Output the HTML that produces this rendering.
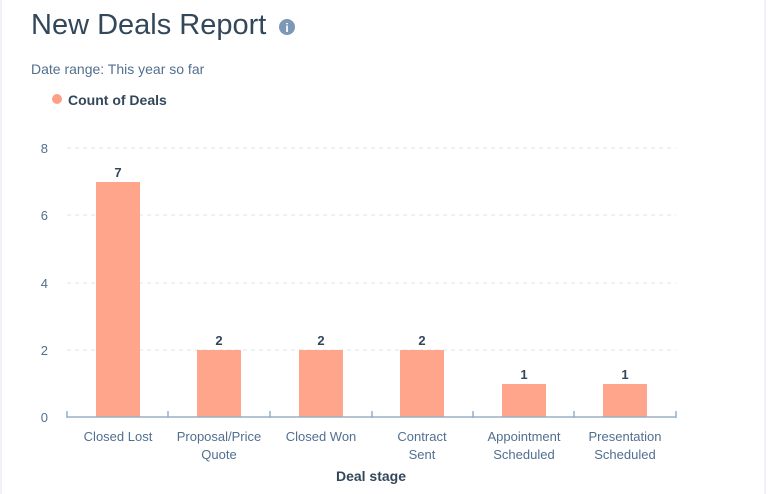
<!DOCTYPE html><html><head><style>body{margin:0;width:768px;height:494px;background:#fff;overflow:hidden;position:relative;font-family:"Liberation Sans",sans-serif}</style></head><body>
<div style="position:absolute;left:0;top:0;width:2px;height:494px;background:#eef2f6"></div>
<div style="position:absolute;right:2px;top:0;width:2px;height:494px;background:#eef2f6"></div>
<svg width="768" height="494" style="position:absolute;left:0;top:0" font-family="Liberation Sans, sans-serif">
<text x="31" y="34" font-size="29" fill="#33475b">New Deals Report</text>
<circle cx="287" cy="27" r="8" fill="#7c98b6"/><text x="287" y="32" font-size="12" font-weight="bold" fill="#fff" text-anchor="middle">i</text>
<text x="31" y="74" font-size="14" fill="#516f90">Date range: This year so far</text>
<circle cx="57" cy="99" r="5" fill="#ff9f86"/><text x="68" y="105" font-size="14" font-weight="bold" fill="#33475b">Count of Deals</text>
<g stroke="#dfe3eb" stroke-dasharray="4,4"><line x1="67" x2="676" y1="148" y2="148"/><line x1="67" x2="676" y1="215" y2="215"/><line x1="67" x2="676" y1="283" y2="283"/><line x1="67" x2="676" y1="350" y2="350"/></g>
<g font-size="13" fill="#516f90" text-anchor="end"><text x="48" y="153">8</text><text x="48" y="220">6</text><text x="48" y="288">4</text><text x="48" y="355">2</text><text x="48" y="422">0</text></g>
<g fill="#ffa58b"><rect x="96" y="182" width="44" height="235"/><rect x="197" y="350" width="44" height="67"/><rect x="299" y="350" width="44" height="67"/><rect x="400" y="350" width="44" height="67"/><rect x="502" y="384" width="44" height="33"/><rect x="603" y="384" width="44" height="33"/></g>
<g font-size="13" font-weight="bold" fill="#33475b" text-anchor="middle"><text x="118" y="177">7</text><text x="219" y="345">2</text><text x="321" y="345">2</text><text x="422" y="345">2</text><text x="524" y="379">1</text><text x="625" y="379">1</text></g>
<g stroke="#99afc4" stroke-width="1.5"><line x1="67" x2="676" y1="417" y2="417"/><line x1="67" x2="67" y1="411" y2="418"/><line x1="168" x2="168" y1="411" y2="418"/><line x1="270" x2="270" y1="411" y2="418"/><line x1="372" x2="372" y1="411" y2="418"/><line x1="473" x2="473" y1="411" y2="418"/><line x1="574" x2="574" y1="411" y2="418"/><line x1="676" x2="676" y1="411" y2="418"/></g>
<g font-size="13" fill="#516f90" text-anchor="middle"><text x="118" y="441">Closed Lost</text><text x="219" y="441">Proposal/Price</text><text x="219" y="459">Quote</text><text x="321" y="441">Closed Won</text><text x="422" y="441">Contract</text><text x="422" y="459">Sent</text><text x="524" y="441">Appointment</text><text x="524" y="459">Scheduled</text><text x="625" y="441">Presentation</text><text x="625" y="459">Scheduled</text></g>
<text x="371" y="481" font-size="14" font-weight="bold" fill="#33475b" text-anchor="middle">Deal stage</text>
</svg></body></html>
